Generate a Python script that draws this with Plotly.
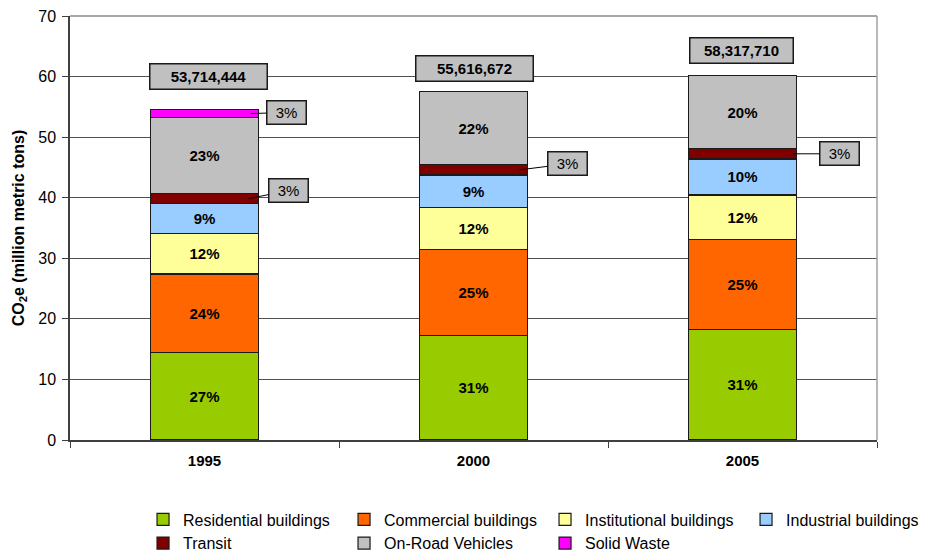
import plotly.graph_objects as go

# ---------------- data ----------------
years = ["1995", "2000", "2005"]

residential = [14.4, 17.3, 18.2]
commercial = [13.0, 14.2, 14.9]
institutional = [6.7, 6.85, 7.35]
industrial = [4.9, 5.4, 5.95]
transit = [1.7, 1.7, 1.7]
on_road = [12.6, 12.05, 12.05]
solid_waste = [1.2, None, None]

residential_pct = ["27%", "31%", "31%"]
commercial_pct = ["24%", "25%", "25%"]
institutional_pct = ["12%", "12%", "12%"]
industrial_pct = ["9%", "9%", "10%"]
transit_pct = ["3%", "3%", "3%"]
on_road_pct = ["23%", "22%", "20%"]
solid_waste_pct = ["3%", "", ""]

totals = [53714444, 55616672, 58317710]

series_names = ["Residential buildings", "Commercial buildings", "Institutional buildings",
                "Industrial buildings", "Transit", "On-Road Vehicles", "Solid Waste"]
series_values = [residential, commercial, institutional, industrial, transit, on_road, solid_waste]
series_pcts = [residential_pct, commercial_pct, institutional_pct, industrial_pct,
               transit_pct, on_road_pct, solid_waste_pct]

# ---------------- style ----------------
colors = ["#99CC00", "#FF6600", "#FFFF99", "#99CCFF", "#800000", "#C0C0C0", "#FF00FF"]
inside_label = [True, True, True, True, False, True, False]
# callouts (series index, year index): (xshift, ax, ay)
callout_style = {
    (6, 0): (46, 36, -1),
    (4, 0): (44, 40, -8),
    (4, 1): (46, 48, -6),
    (4, 2): (50, 47, 0),
}
total_yshift = [20, 10, 12]
total_xshift = [4, 1, -1]
total_width = [112, 112, 98]

FONT = "Liberation Sans, Arial, sans-serif"

fig = go.Figure()
for i, (name, vals, pcts) in enumerate(zip(series_names, series_values, series_pcts)):
    fig.add_trace(go.Bar(
        x=years, y=vals, name=name,
        marker=dict(color=colors[i], line=dict(color="#1a1a1a", width=1.2)),
        text=pcts if inside_label[i] else None,
        textposition="inside" if inside_label[i] else "none",
        insidetextanchor="middle",
        textangle=0,
        textfont=dict(family=FONT, size=15, color="black", weight="bold"),
        hoverinfo="x+y+name",
    ))

annotations = []
# callouts (x given as category index)
for (si, yi), (xs, ax, ay) in callout_style.items():
    below = sum((series_values[k][yi] or 0) for k in range(si))
    mid = below + (series_values[si][yi] or 0) / 2
    annotations.append(dict(
        x=yi, y=mid, xref="x", yref="y",
        text=series_pcts[si][yi], showarrow=True, arrowhead=0, arrowwidth=1,
        arrowcolor="black", ax=ax, ay=ay, xshift=xs,
        font=dict(family=FONT, size=15, color="black"),
        bgcolor="#C0C0C0", bordercolor="#1a1a1a", borderwidth=1.5, borderpad=2,
        width=34, height=18,
    ))
# totals
for yi, tot in enumerate(totals):
    top = sum((series_values[k][yi] or 0) for k in range(len(series_values)))
    annotations.append(dict(
        x=yi, y=top, xref="x", yref="y", yanchor="bottom",
        yshift=total_yshift[yi], xshift=total_xshift[yi], showarrow=False,
        text=f"{tot:,}",
        font=dict(family=FONT, size=15, color="black", weight="bold"),
        bgcolor="#C0C0C0", bordercolor="#1a1a1a", borderwidth=1.5, borderpad=2,
        width=total_width[yi], height=20,
    ))

# the page body adds an 8px offset, so margins are trimmed by 8 on left/top
fig.update_layout(
    width=941, height=556,
    margin=dict(l=62, r=72, t=8, b=124, autoexpand=False),
    paper_bgcolor="white", plot_bgcolor="white",
    barmode="stack", bargap=0.6,
    font=dict(family=FONT, color="black"),
    showlegend=True,
    legend=dict(orientation="h", x=0.0905, xanchor="left",
                y=-0.284, yanchor="bottom",
                traceorder="normal", entrywidth=156, entrywidthmode="pixels",
                font=dict(family=FONT, size=16, color="black"),
                itemwidth=30, tracegroupgap=0, bgcolor="rgba(0,0,0,0)"),
    annotations=annotations,
    shapes=[
        dict(type="line", xref="paper", yref="paper", x0=1, x1=1, y0=0, y1=1,
             line=dict(color="#A0A0A0", width=1.5)),
        dict(type="line", xref="paper", yref="paper", x0=0, x1=1, y0=1, y1=1,
             line=dict(color="#505050", width=1), layer="below"),
    ],
    xaxis=dict(type="category", range=[-0.5, 2.5], autorange=False, automargin=False,
               showline=True, linecolor="#404040", linewidth=1.5,
               ticks="outside", tickson="boundaries", ticklen=6, tickcolor="#404040",
               tickfont=dict(family=FONT, size=15, color="black", weight="bold"),
               ticklabelstandoff=6, showgrid=False),
    yaxis=dict(range=[0, 70], autorange=False, dtick=10, automargin=False, showline=True,
               linecolor="#404040", linewidth=1.5,
               ticks="outside", ticklen=6, tickcolor="#404040",
               showgrid=True, gridcolor="#505050", gridwidth=1,
               ticklabelstandoff=3, ticklabeloverflow="allow",
               tickfont=dict(family=FONT, size=16, color="black"),
               title=dict(text="CO<sub>2</sub>e (million metric tons)",
                          font=dict(family=FONT, size=16, color="black", weight="bold"),
                          standoff=10)),
)

fig.write_html("out.html")
